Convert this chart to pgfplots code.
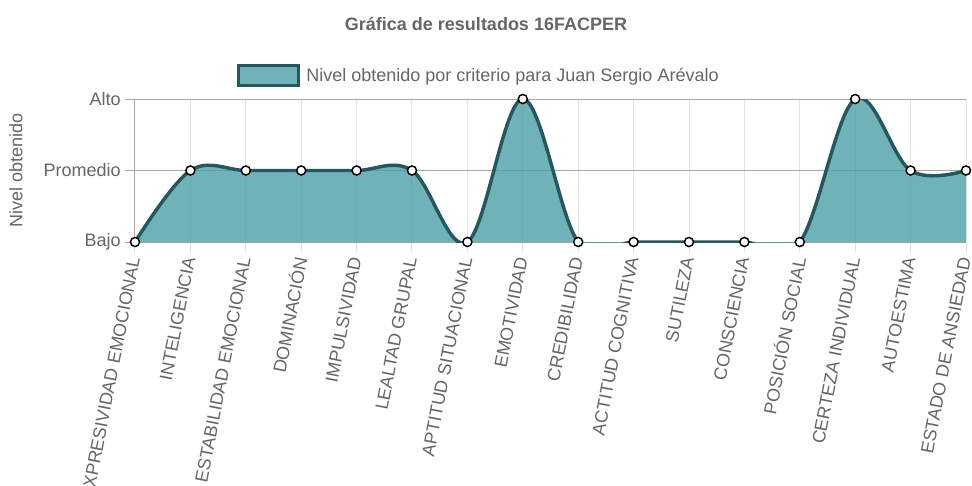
\documentclass[border=0pt]{standalone}
\usepackage{fontspec}
\setmainfont{Liberation Sans}
\usepackage{pgfplots}
\usepackage{pgfplotstable}
\pgfplotsset{compat=1.18}
\definecolor{txt}{HTML}{666666}
\definecolor{fillc}{RGB}{75,160,166}
\definecolor{linec}{HTML}{24585F}
\definecolor{gridv}{HTML}{E3E3E3}
\definecolor{gridh}{HTML}{A8A8A8}
\pgfplotstableread{
x y
0 0
1 1
2 1
3 1
4 1
5 1
6 0
7 2
8 0
9 0
10 0
11 0
12 0
13 2
14 1
15 1
}\datatable
\begin{document}
\begin{tikzpicture}
\useasboundingbox (-101.25pt,-183pt) rectangle (627.75pt,181.5pt);
\clip (-101.25pt,-183pt) rectangle (627.75pt,181.5pt);
\begin{axis}[
  at={(0,0)}, anchor=south west,
  scale only axis, width=623.25pt, height=107.25pt,
  xmin=0, xmax=15, ymin=0, ymax=2,
  xtick={0,...,15},
  xticklabels={EXPRESIVIDAD EMOCIONAL, INTELIGENCIA, ESTABILIDAD EMOCIONAL, DOMINACIÓN, IMPULSIVIDAD, LEALTAD GRUPAL, APTITUD SITUACIONAL, EMOTIVIDAD, CREDIBILIDAD, ACTITUD COGNITIVA, SUTILEZA, CONSCIENCIA, POSICIÓN SOCIAL, CERTEZA INDIVIDUAL, AUTOESTIMA, ESTADO DE ANSIEDAD},
  ytick={0,1,2}, yticklabels={Bajo,Promedio,Alto},
  axis x line*=bottom, axis y line*=left,
  axis line style={gridh, line width=0.75pt, -},
  grid=major,
  x grid style={gridv, line width=0.75pt},
  y grid style={gridh, line width=0.75pt},
  tick align=outside,
  major tick length=7.5pt,
  x tick style={gridv, line width=0.75pt},
  y tick style={gridh, line width=0.75pt},
  tick label style={font=\fontsize{13.5}{16}\selectfont, text=txt},
  x tick label style={rotate=79, anchor=east, inner sep=4pt},
  y tick label style={inner sep=3pt},
  title={Gráfica de resultados 16FACPER},
  title style={at={(axis description cs:0.4224,1.469)}, anchor=center, font=\bfseries\fontsize{13.5}{16}\selectfont, text=txt},
  ylabel={Nivel obtenido},
  ylabel style={at={(axis description cs:-0.1432,0.5)}, anchor=center, font=\fontsize{13.5}{16}\selectfont, text=txt},
  legend style={at={(axis description cs:0.1221,1.1643)}, anchor=west, draw=none, fill=none, inner sep=0pt, font=\fontsize{13.5}{16}\selectfont, text=txt, /tikz/every odd column/.append style={column sep=3pt}},
  legend cell align=left,
]
\addplot[draw=none, fill=fillc, fill opacity=0.8, smooth, tension=0.6, forget plot] table[x=x,y=y] {\datatable} \closedcycle;
\addplot[linec, line width=2.6pt, smooth, tension=0.6, mark=*, mark size=3.4pt, mark options={fill=white, draw=black, line width=1.1pt, solid},
  legend image code/.code={\draw[line width=2.25pt, draw=linec, fill=fillc, fill opacity=0.8] (0pt,-7.5pt) rectangle (45pt,7.5pt);}] table[x=x,y=y] {\datatable};
\addlegendentry{Nivel obtenido por criterio para Juan Sergio Arévalo}
\end{axis}
\end{tikzpicture}
\end{document}
